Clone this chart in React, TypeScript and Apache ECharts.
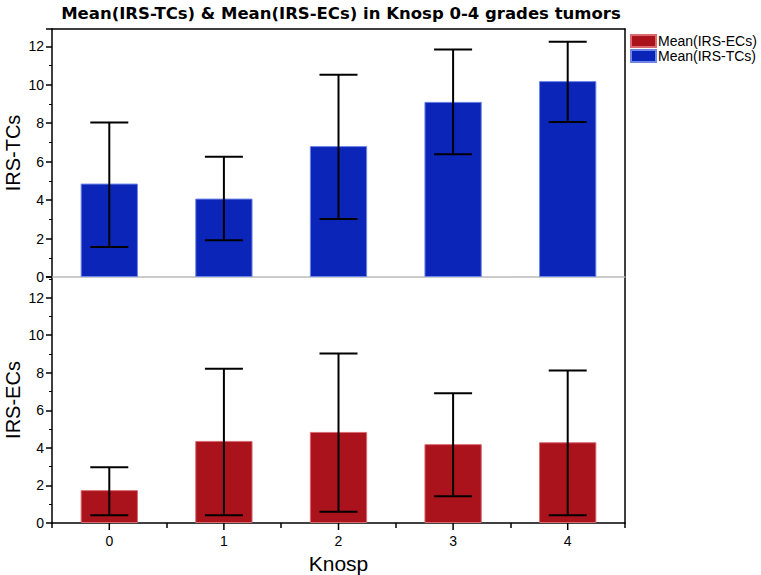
import React, { useEffect, useRef } from "react";
import * as echarts from "echarts";

const categories = ["0", "1", "2", "3", "4"];
const tcMean = [4.86, 4.08, 6.81, 9.11, 10.19];
const tcUpper = [8.04, 6.25, 10.52, 11.84, 12.24];
const tcLower = [1.56, 1.91, 3.02, 6.39, 8.06];
const ecMean = [1.75, 4.37, 4.85, 4.2, 4.3];
const ecUpper = [2.97, 8.22, 9.02, 6.91, 8.12];
const ecLower = [0.41, 0.41, 0.6, 1.42, 0.41];
const yTicks = [0, 2, 4, 6, 8, 10, 12];

const FONT = "Liberation Sans, Arial, sans-serif";

function errorSeries(upper: number[], lower: number[], axisIndex: number, centerTicks: boolean) {
  return {
    type: "custom",
    xAxisIndex: axisIndex,
    yAxisIndex: axisIndex,
    z: 5,
    clip: false,
    data: categories.map((c, i) => [i, lower[i], upper[i]]),
    encode: { x: 0, y: [1, 2] },
    renderItem: (params: any, api: any) => {
      const x = api.value(0);
      const lo = api.coord([x, api.value(1)]);
      const hi = api.coord([x, api.value(2)]);
      const base = api.coord([x, 0]);
      const hw = 19;
      const style = { stroke: "#000", lineWidth: 2 };
      const children: any[] = [
        { type: "line", shape: { x1: lo[0], y1: lo[1], x2: hi[0], y2: hi[1] }, style },
        { type: "line", shape: { x1: hi[0] - hw, y1: hi[1], x2: hi[0] + hw, y2: hi[1] }, style },
        { type: "line", shape: { x1: lo[0] - hw, y1: lo[1], x2: lo[0] + hw, y2: lo[1] }, style },
      ];
      if (centerTicks) {
        children.push({
          type: "line",
          shape: { x1: base[0], y1: base[1], x2: base[0], y2: base[1] + 7 },
          style: { stroke: "#000", lineWidth: 1.5 },
        });
      }
      return { type: "group", children };
    },
  };
}

export default function App() {
  const ref = useRef<HTMLDivElement>(null);
  useEffect(() => {
    document.body.style.margin = "0";
    const chart = echarts.init(ref.current!, null, { renderer: "svg" });
    const black = { lineStyle: { color: "#000", width: 1.5 } };
    const labelFmt = (v: number) => (yTicks.includes(v) ? String(v) : "");
    const yBase = (gridIndex: number, max: number, name: string) => ({
      type: "value",
      gridIndex,
      min: 0,
      max,
      interval: 2,
      position: "left",
      name,
      nameLocation: "middle",
      nameRotate: 90,
      nameGap: 29,
      nameMoveOverlap: false,
      nameTextStyle: { fontFamily: FONT, fontSize: 20, color: "#000" },
      axisLine: { show: true, ...black },
      axisTick: { show: true, length: 6, lineStyle: { color: "#000", width: 1.5 } },
      minorTick: { show: true, splitNumber: 2, length: 3, lineStyle: { color: "#000", width: 1 } },
      axisLabel: { fontFamily: FONT, fontSize: 14, color: "#000", margin: 8, formatter: labelFmt, showMaxLabel: false },
      splitLine: { show: false },
    });
    const yRight = (gridIndex: number, max: number) => ({
      type: "value",
      gridIndex,
      min: 0,
      max,
      position: "right",
      axisLine: { show: true, onZero: false, ...black },
      axisTick: { show: false },
      axisLabel: { show: false },
      splitLine: { show: false },
    });
    chart.setOption({
      animation: false,
      title: {
        text: "Mean(IRS-TCs) & Mean(IRS-ECs) in Knosp 0-4 grades tumors",
        left: 336,
        top: 0,
        textAlign: "center",
        textStyle: { fontFamily: "DejaVu Sans, sans-serif", fontSize: 16.5, fontWeight: "bold", color: "#000" },
      },
      legend: {
        orient: "vertical",
        left: 630,
        top: 34,
        itemWidth: 25,
        itemHeight: 12,
        itemGap: 1,
        padding: 0,
        icon: "rect",
        data: ["Mean(IRS-ECs)", "Mean(IRS-TCs)"],
        textStyle: { fontFamily: FONT, fontSize: 14, color: "#000", padding: [0, 0, 0, -3] },
      },
      grid: [
        { left: 52, width: 573, top: 29, height: 248, outerBoundsMode: "none" },
        { left: 52, width: 573, top: 277, height: 246, outerBoundsMode: "none" },
      ],
      xAxis: [
        {
          type: "category", gridIndex: 0, data: categories, position: "bottom",
          axisLine: { show: true, onZero: false, lineStyle: { color: "#bbbbbb", width: 1.5 } },
          axisTick: { show: false }, axisLabel: { show: false },
        },
        {
          type: "category", gridIndex: 1, data: categories, position: "bottom",
          axisLine: { show: true, onZero: false, ...black },
          axisTick: { show: true, interval: 0, length: 5, lineStyle: { color: "#000", width: 1.5 } },
          axisLabel: { fontFamily: FONT, fontSize: 14, color: "#000", margin: 11 },
          name: "Knosp",
          nameLocation: "middle",
          nameGap: 30,
          nameMoveOverlap: false,
          nameTextStyle: { fontFamily: FONT, fontSize: 21, color: "#000" },
        },
        {
          type: "category", gridIndex: 0, data: categories, position: "top",
          axisLine: { show: true, onZero: false, ...black },
          axisTick: { show: false }, axisLabel: { show: false },
        },
      ],
      yAxis: [
        yBase(0, 12.9, "IRS-TCs"),
        yBase(1, 13.1, "IRS-ECs"),
        yRight(0, 12.9),
        yRight(1, 13.1),
      ],
      series: [
        {
          name: "Mean(IRS-ECs)",
          type: "bar",
          xAxisIndex: 1,
          yAxisIndex: 1,
          barWidth: "50%",
          data: ecMean,
          itemStyle: { color: "#aa131c", borderColor: "#d86a70", borderWidth: 1 },
        },
        {
          name: "Mean(IRS-TCs)",
          type: "bar",
          xAxisIndex: 0,
          yAxisIndex: 0,
          barWidth: "50%",
          data: tcMean,
          itemStyle: { color: "#0c25b9", borderColor: "#6f86e6", borderWidth: 1 },
        },
        errorSeries(tcUpper, tcLower, 0, false),
        errorSeries(ecUpper, ecLower, 1, true),
      ],
    });
    return () => chart.dispose();
  }, []);
  return <div ref={ref} style={{ width: 761, height: 575 }} />;
}
